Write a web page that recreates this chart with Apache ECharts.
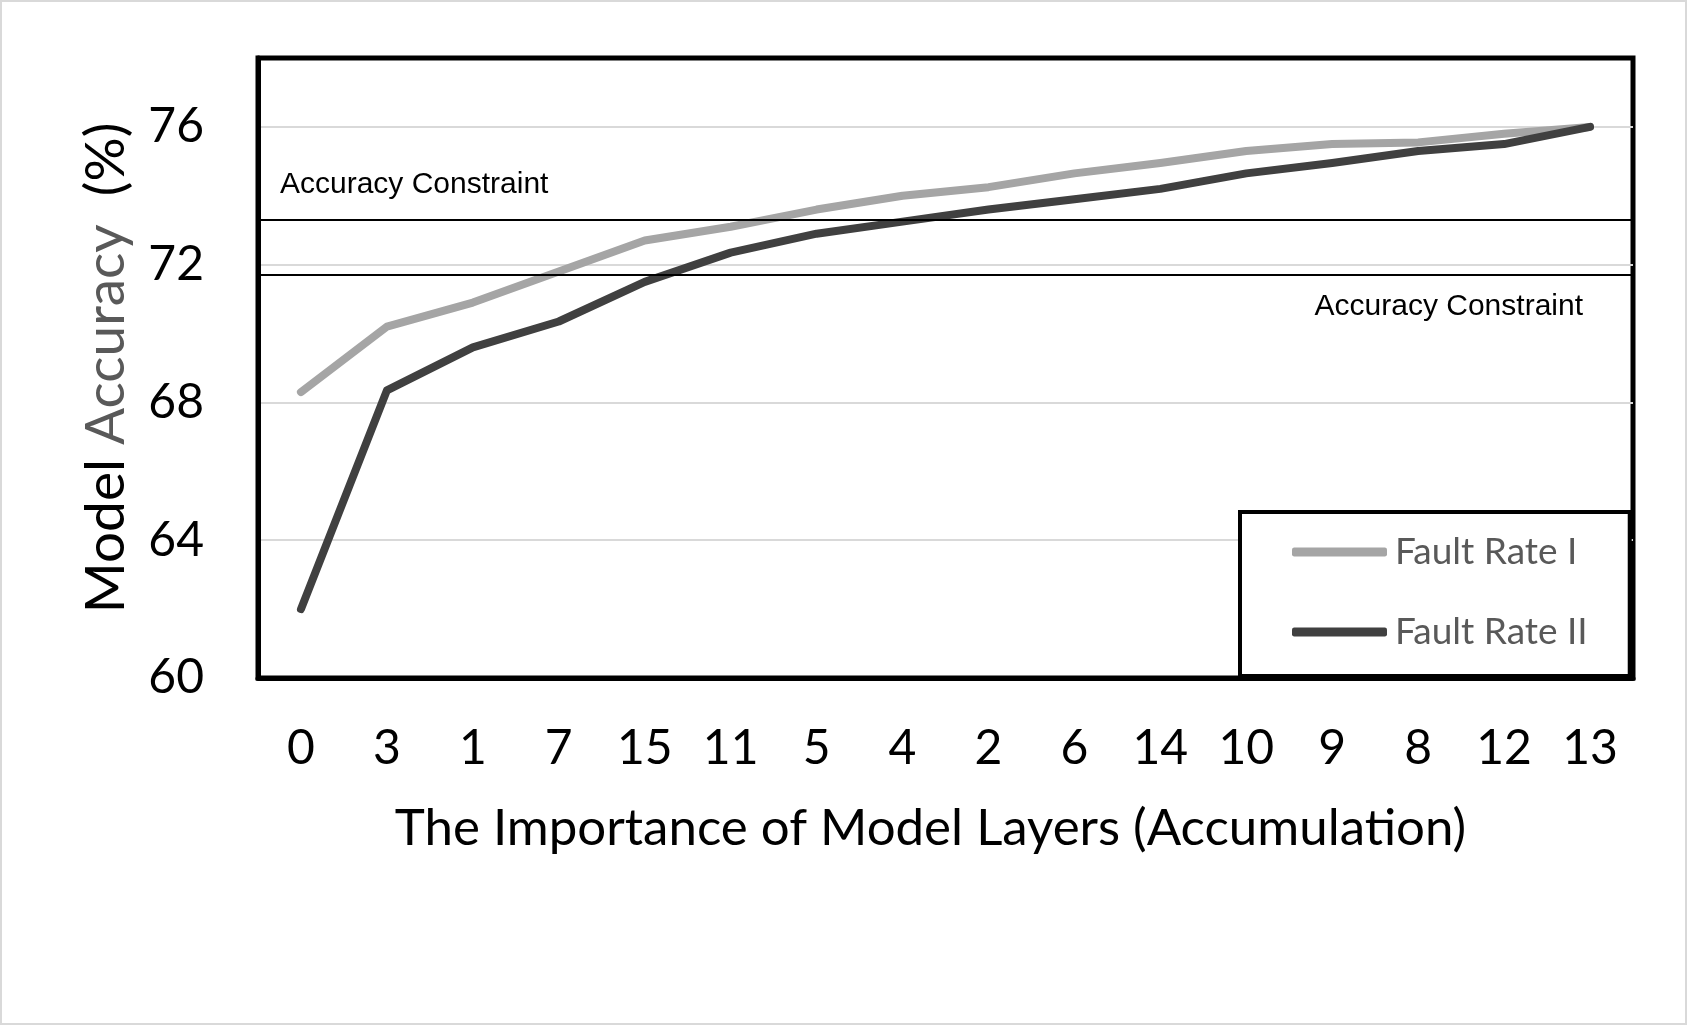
<!DOCTYPE html>
<html>
<head>
<meta charset="utf-8">
<script src="https://cdn.jsdelivr.net/npm/echarts@6/dist/echarts.min.js"></script>
<style>
html,body{margin:0;padding:0;background:#fff;}
#wrap{position:relative;width:1687px;height:1025px;}
#chart{position:absolute;left:0;top:0;width:1687px;height:1025px;}
#frame{position:absolute;left:0;top:0;width:1687px;height:1025px;box-sizing:border-box;border:2px solid #d9d9d9;pointer-events:none;}
</style>
</head>
<body>
<div id="wrap"><div id="chart"></div><div id="frame"></div></div>
<script>
var categories = ['0','3','1','7','15','11','5','4','2','6','14','10','9','8','12','13'];
var faultRateI = [68.3, 70.2, 70.9, 71.8, 72.7, 73.1, 73.6, 74.0, 74.25, 74.65, 74.95, 75.3, 75.5, 75.55, 75.8, 76.0];
var faultRateII = [62.0, 68.35, 69.6, 70.35, 71.5, 72.35, 72.9, 73.25, 73.6, 73.9, 74.2, 74.65, 74.95, 75.3, 75.5, 76.0];
var seriesNames = ['Fault Rate I', 'Fault Rate II'];
var constraintUpper = 73.3;
var constraintLower = 71.7;
var constraintLabel = 'Accuracy Constraint';
var yMin = 60, yMax = 78, yInterval = 4;

var chart = echarts.init(document.getElementById('chart'));
var option = {
  animation: false,
  backgroundColor: '#ffffff',
  grid: {
    left: 258, right: 54, top: 58, bottom: 347,
    show: true, borderColor: '#000', borderWidth: 5, backgroundColor: 'transparent'
  },
  legend: {
    orient: 'vertical',
    left: 1240, top: 512,
    padding: [20, 42, 24, 52],
    itemGap: 40,
    itemWidth: 95, itemHeight: 9,
    icon: 'roundRect',
    borderColor: '#000', borderWidth: 4,
    backgroundColor: '#fff',
    textStyle: { fontFamily: 'Lato', fontSize: 37, color: '#595959', lineHeight: 40, padding: [0,0,0,3] },
    data: seriesNames
  },
  xAxis: {
    type: 'category',
    data: categories,
    boundaryGap: true,
    axisLine: { show: true, lineStyle: { color: '#000', width: 5 } },
    axisTick: { show: false },
    axisLabel: { fontFamily: 'Lato', fontSize: 48, color: '#000', margin: 47 },
    name: 'The Importance of Model Layers (Accumulation)',
    nameLocation: 'middle',
    nameGap: 125,
    nameTextStyle: { fontFamily: 'Lato', fontSize: 51, color: '#000', padding: [0, 30, 0, 0] }
  },
  yAxis: {
    type: 'value',
    min: yMin, max: yMax, interval: yInterval,
    axisLine: { show: true, lineStyle: { color: '#000', width: 5 } },
    axisTick: { show: false },
    axisLabel: { fontFamily: 'Lato', fontSize: 48, color: '#000', margin: 54, showMaxLabel: false },
    splitLine: { show: true, showMaxLine: false, showMinLine: false, lineStyle: { color: '#d9d9d9', width: 2 } },
    name: '{a|Model }{b|Accuracy}{a|  (%)}',
    nameLocation: 'middle',
    nameGap: 124,
    nameRotate: 90,
    nameTextStyle: {
      fontFamily: 'Lato', fontSize: 55, color: '#000',
      rich: {
        a: { fontFamily: 'Lato', fontSize: 55, color: '#000' },
        b: { fontFamily: 'Lato', fontSize: 55, color: '#595959' }
      }
    }
  },
  series: [
    {
      name: seriesNames[0],
      type: 'line',
      data: faultRateI,
      symbol: 'none',
      itemStyle: { color: '#a5a5a5' },
      lineStyle: { color: '#a5a5a5', width: 8, cap: 'round', join: 'round' },
      z: 3,
      markLine: {
        silent: true,
        symbol: ['none', 'none'],
        lineStyle: { color: '#000', width: 2, type: 'solid' },
        data: [
          { yAxis: constraintUpper, label: { show: true, formatter: constraintLabel, position: 'insideStartTop', distance: [22, 20], fontFamily: 'Liberation Sans', fontSize: 30, color: '#000' } },
          { yAxis: constraintLower, label: { show: true, formatter: constraintLabel, position: 'insideEndBottom', distance: [50, 17], fontFamily: 'Liberation Sans', fontSize: 30, color: '#000' } }
        ]
      }
    },
    {
      name: seriesNames[1],
      type: 'line',
      data: faultRateII,
      symbol: 'none',
      itemStyle: { color: '#404040' },
      lineStyle: { color: '#404040', width: 8, cap: 'round', join: 'round' },
      z: 4
    }
  ]
};
chart.setOption(option);
</script>
</body>
</html>
